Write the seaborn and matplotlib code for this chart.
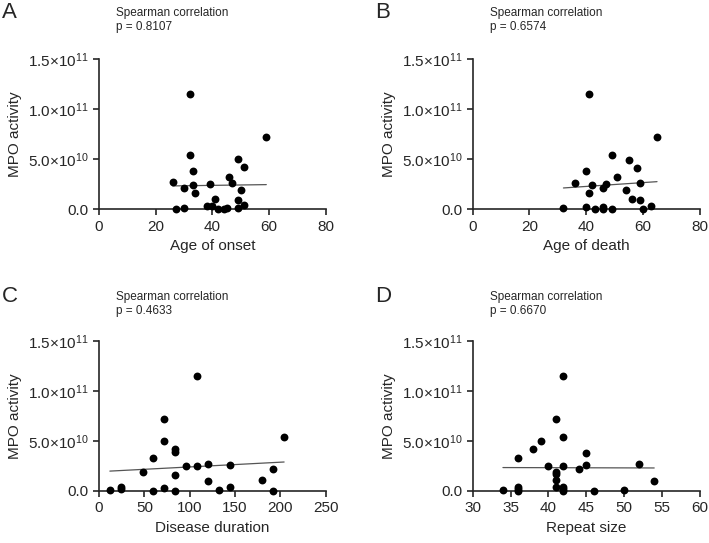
import matplotlib
matplotlib.use("Agg")
import matplotlib.pyplot as plt
import matplotlib.ticker as mticker
import seaborn as sns
import pandas as pd
import numpy as np

# valori (MPO in unitati de 1e10)
onset_x = [32, 59, 32, 49, 51, 33, 46, 26, 47, 33, 39, 30, 50, 34, 49, 41, 38, 40, 51, 27, 30, 42, 44, 45, 49]
onset_y = [11.5, 7.23, 5.43, 5.0, 4.2, 3.83, 3.27, 2.7, 2.63, 2.43, 2.5, 2.17, 1.93, 1.63, 0.93, 1.07,
           0.33, 0.33, 0.4, 0.0, 0.13, 0.0, 0.0, 0.1, 0.1]

death_x = [41, 65, 49, 55, 58, 40, 51, 36, 42, 59, 47, 46, 54, 41, 56, 59, 32, 40, 43, 46, 46, 49, 60, 63]
death_y = [11.5, 7.2, 5.4, 4.93, 4.16, 3.8, 3.26, 2.65, 2.42, 2.6, 2.5, 2.1, 1.88, 1.58, 1.04, 0.9,
           0.1, 0.27, 0.0, 0.23, 0.03, 0.0, 0.07, 0.37]

durata_x = [108, 72, 204, 72, 84, 84, 60, 96, 108, 120, 144, 48, 192, 84, 120, 180, 12, 24, 24, 60, 72,
            84, 132, 144, 192]
durata_y = [11.53, 7.23, 5.43, 5.0, 4.2, 3.87, 3.27, 2.53, 2.5, 2.67, 2.63, 1.9, 2.17, 1.63, 0.97, 1.1,
            0.1, 0.37, 0.23, 0.0, 0.33, 0.03, 0.13, 0.4, 0.0]

repeat_x = [42, 41, 42, 39, 38, 45, 36, 45, 52, 40, 42, 44, 41, 41, 41, 54, 34, 36, 36, 36, 41, 42, 42,
            42, 46, 50]
repeat_y = [11.53, 7.23, 5.43, 5.0, 4.2, 3.83, 3.27, 2.63, 2.67, 2.53, 2.47, 2.17, 1.93, 1.7, 1.1, 0.97,
            0.1, 0.43, 0.23, 0.0, 0.37, 0.37, 0.17, 0.03, 0.0, 0.13]

litere = ["A", "B", "C", "D"]
etichete_x = ["Age of onset", "Age of death", "Disease duration", "Repeat size"]
valori_p = ["0.8107", "0.6574", "0.4633", "0.6670"]
limite_x = [(0, 80), (0, 80), (0, 250), (30, 60)]
ticks_x = [[0, 20, 40, 60, 80], [0, 20, 40, 60, 80], [0, 50, 100, 150, 200, 250], [30, 35, 40, 45, 50, 55, 60]]

sns.set_style("ticks")
plt.rcParams["font.family"] = ["Liberation Sans", "DejaVu Sans"]
plt.rcParams["mathtext.fontset"] = "custom"
plt.rcParams["mathtext.rm"] = "Liberation Sans"


def format_y(v, pos):
    if v == 0:
        return "0.0"
    e = int(np.floor(np.log10(v)))
    m = v / 10 ** e
    return r"$\mathregular{%.1f{\times}10^{%d}}$" % (m, e)


def panou(fig, rect, x, y, eticheta, xlim, xt):
    ax = fig.add_axes(rect)
    t = pd.DataFrame({"x": x, "y": np.array(y) * 1e10})
    sns.regplot(data=t, x="x", y="y", ax=ax, ci=None, truncate=True, color="black",
                scatter_kws={"s": 32, "alpha": 1, "clip_on": False, "zorder": 3, "linewidths": 0},
                line_kws={"color": "#555555", "lw": 0.9})
    ax.set_xlim(*xlim)
    ax.set_ylim(0, 1.5e11)
    ax.set_xticks(xt)
    ax.set_yticks([0, 5e10, 1e11, 1.5e11])
    ax.yaxis.set_major_formatter(mticker.FuncFormatter(format_y))
    ax.set_xlabel(eticheta, fontsize=11)
    ax.set_ylabel("MPO activity", fontsize=11)
    ax.tick_params(labelsize=11, length=4, width=1.2)
    for s in ["left", "bottom"]:
        ax.spines[s].set_linewidth(1.2)
    sns.despine(ax=ax)
    return ax


fig = plt.figure(figsize=(7.09, 5.43), dpi=100)
stanga = [0.1396, 0.6667, 0.1396, 0.6667]
jos = [0.6146, 0.6146, 0.0958, 0.0958]
pos_x = [[0, 116], [373, 490], [0, 116], [373, 490]]
pos_y = [13, 13, 297, 297]

for i, (x, y) in enumerate([(onset_x, onset_y), (death_x, death_y), (durata_x, durata_y), (repeat_x, repeat_y)]):
    panou(fig, [stanga[i], jos[i], 0.320, 0.2762], x, y, etichete_x[i], limite_x[i], ticks_x[i])
    fig.text((pos_x[i][0] + 2) / 709, 1 - pos_y[i] / 543, litere[i], fontsize=16, va="center", ha="left")
    fig.text(pos_x[i][1] / 709, 1 - pos_y[i] / 543, "Spearman correlation", fontsize=8.5, va="center")
    fig.text(pos_x[i][1] / 709, 1 - (pos_y[i] + 14) / 543, "p = " + valori_p[i], fontsize=8.5, va="center")

fig.savefig("out.png", dpi=100)
